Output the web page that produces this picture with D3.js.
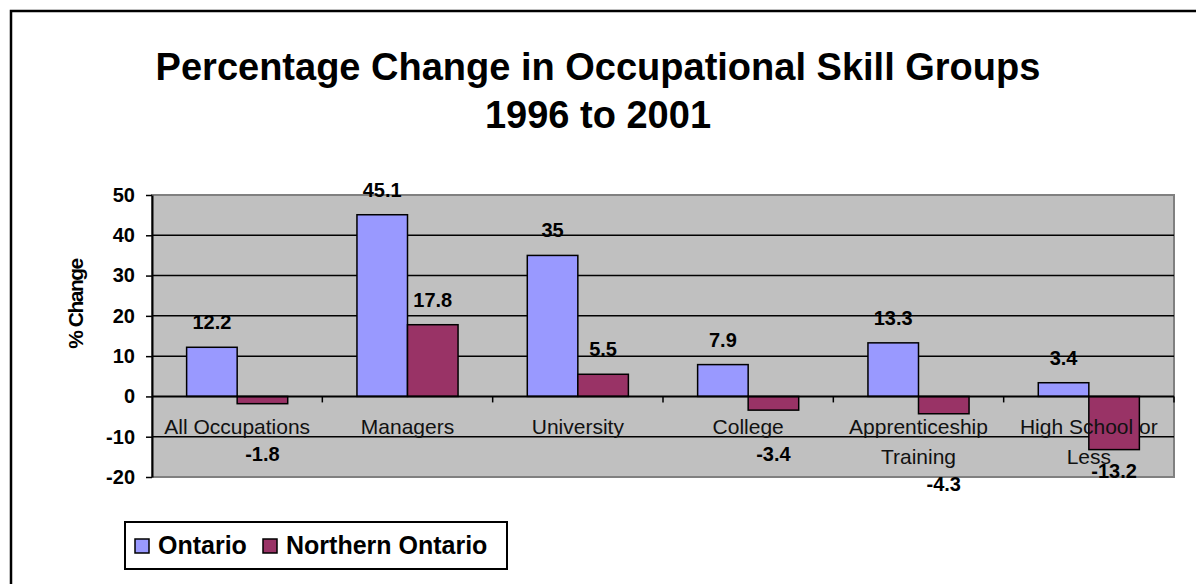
<!DOCTYPE html>
<html>
<head>
<meta charset="utf-8">
<script src="https://cdn.jsdelivr.net/npm/d3@7/dist/d3.min.js"></script>
<style>
  body { margin: 0; background: #fff; }
  text { font-family: "Liberation Sans", Arial, sans-serif; }
</style>
</head>
<body>
<script>
// Data
const categories = ['All Occupations', 'Managers', 'University', 'College', 'Apprenticeship Training', 'High School or Less']
const ontario = [12.2, 45.1, 35, 7.9, 13.3, 3.4]
const northern = [-1.8, 17.8, 5.5, -3.4, -4.3, -13.2]
const seriesNames = ['Ontario', 'Northern Ontario']
const seriesColors = ['#9999FF', '#993366']
const yTicks = [-20, -10, 0, 10, 20, 30, 40, 50]
const titleLines = ['Percentage Change in Occupational Skill Groups', '1996 to 2001']

const W = 1196, H = 584
const plot = { left: 152, right: 1174, top: 195, bottom: 477 }

const svg = d3.select('body').append('svg')
    .attr('width', W)
    .attr('height', H)

// outer chart border (runs off the right and bottom edge)
svg.append('rect')
    .attr('x', 11).attr('y', 11)
    .attr('width', W + 20).attr('height', H + 20)
    .attr('fill', 'none')
    .attr('stroke', '#000')
    .attr('stroke-width', 2.5)

// Title
svg.append('g').selectAll('text')
    .data(titleLines)
    .enter().append('text')
    .attr('x', 598)
    .attr('y', (d, i) => 80 + i * 48)
    .attr('text-anchor', 'middle')
    .style('font-size', '38px')
    .style('font-weight', 'bold')
    .text(d => d)

// Scales
const x0 = d3.scaleBand()
    .domain(categories)
    .range([plot.left, plot.right])

const gapWidth = 1.37
const barW = x0.bandwidth() / (2 + gapWidth)
const x1 = d3.scaleBand()
    .domain(seriesNames)
    .range([barW * gapWidth / 2, barW * gapWidth / 2 + barW * 2])

const y = d3.scaleLinear()
    .domain([-20, 50])
    .range([plot.bottom, plot.top])

// Plot area
svg.append('rect')
    .attr('x', plot.left).attr('y', plot.top)
    .attr('width', plot.right - plot.left)
    .attr('height', plot.bottom - plot.top)
    .attr('fill', '#C0C0C0')
    .attr('stroke', '#808080')
    .attr('stroke-width', 2)

// Gridlines
svg.append('g').selectAll('line')
    .data(yTicks.filter(t => t !== 0 && t !== -20 && t !== 50))
    .enter().append('line')
    .attr('x1', plot.left).attr('x2', plot.right)
    .attr('y1', d => y(d)).attr('y2', d => y(d))
    .attr('stroke', '#000')
    .attr('stroke-width', 1.5)

// Bars
const rows = categories.map((c, i) => ({ cat: c, values: [ontario[i], northern[i]] }))

const groups = svg.append('g').selectAll('g')
    .data(rows)
    .enter().append('g')
    .attr('transform', d => `translate(${x0(d.cat)},0)`)

groups.selectAll('rect')
    .data(d => d.values.map((v, j) => ({ s: seriesNames[j], v: v, j: j })))
    .enter().append('rect')
    .attr('x', d => x1(d.s))
    .attr('y', d => y(Math.max(0, d.v)))
    .attr('width', x1.bandwidth())
    .attr('height', d => Math.abs(y(d.v) - y(0)))
    .attr('fill', d => seriesColors[d.j])
    .attr('stroke', '#000')
    .attr('stroke-width', 1.5)

// Y axis (plain hyphen for negatives, like the original)
const yAxis = svg.append('g')
    .attr('transform', `translate(${plot.left},0)`)
    .call(d3.axisLeft(y).tickValues(yTicks).tickFormat(d => String(d))
        .tickSize(6).tickPadding(11).tickSizeOuter(0))
yAxis.select('.domain').attr('stroke-width', 2)
yAxis.selectAll('.tick line').attr('stroke-width', 1.5)
yAxis.selectAll('text')
    .style('font-size', '20px')
    .style('font-weight', 'bold')
    .style('font-family', '"Liberation Sans", Arial, sans-serif')
    .attr('fill', '#000')

// Zero line with category ticks
svg.append('line')
    .attr('x1', plot.left).attr('x2', plot.right)
    .attr('y1', y(0)).attr('y2', y(0))
    .attr('stroke', '#000')
    .attr('stroke-width', 2)

svg.append('g').selectAll('line')
    .data(categories)
    .enter().append('line')
    .attr('x1', d => x0(d) + x0.bandwidth())
    .attr('x2', d => x0(d) + x0.bandwidth())
    .attr('y1', y(0)).attr('y2', y(0) + 6)
    .attr('stroke', '#000')
    .attr('stroke-width', 1.5)

// Category labels (wrapped to band width)
const catLabels = svg.append('g').selectAll('text')
    .data(categories)
    .enter().append('text')
    .attr('x', d => x0(d) + x0.bandwidth() / 2)
    .attr('y', y(0) + 38)
    .attr('text-anchor', 'middle')
    .style('font-size', '21px')
    .attr('fill', '#111')

const lineCount = {}
catLabels.each(function (d) {
    const t = d3.select(this)
    const words = d.split(' ')
    let line = []
    let n = 0
    let tspan = t.append('tspan').attr('x', x0(d) + x0.bandwidth() / 2).attr('dy', 0)
    words.forEach(w => {
        line.push(w)
        tspan.text(line.join(' '))
        if (tspan.node().getComputedTextLength() > x0.bandwidth() && line.length > 1) {
            line.pop()
            tspan.text(line.join(' '))
            line = [w]
            n++
            tspan = t.append('tspan').attr('x', x0(d) + x0.bandwidth() / 2).attr('dy', 30).text(w)
        }
    })
    lineCount[d] = n + 1
})

// Data labels
const labels = svg.append('g')
rows.forEach(r => {
    r.values.forEach((v, j) => {
        const cx = x0(r.cat) + x1(seriesNames[j]) + x1.bandwidth() / 2
        let ly
        if (v >= 0) ly = y(v) - 18
        else if (y(v) - y(0) > 40) ly = y(v) + 28
        else ly = y(0) + 65 + (lineCount[r.cat] - 1) * 30
        labels.append('text')
            .attr('x', cx)
            .attr('y', ly)
            .attr('text-anchor', 'middle')
            .style('font-size', '20px')
            .style('font-weight', 'bold')
            .text(v)
    })
})

// Y axis title
svg.append('text')
    .attr('transform', `translate(83,304) rotate(-90)`)
    .attr('text-anchor', 'middle')
    .style('font-size', '21px')
    .style('font-weight', 'bold')
    .style('letter-spacing', '-1.5px')
    .text('% Change')

// Legend
const legend = svg.append('g').attr('transform', 'translate(125,522)')
legend.append('rect')
    .attr('width', 382).attr('height', 47)
    .attr('fill', '#fff')
    .attr('stroke', '#000')
    .attr('stroke-width', 2)

const legendX = [10, 138]
seriesNames.forEach((s, i) => {
    legend.append('rect')
        .attr('x', legendX[i]).attr('y', 17)
        .attr('width', 14).attr('height', 14)
        .attr('fill', seriesColors[i])
        .attr('stroke', '#000')
        .attr('stroke-width', 1.5)
    legend.append('text')
        .attr('x', legendX[i] + 23).attr('y', 32)
        .style('font-size', '25px')
        .style('font-weight', 'bold')
        .text(s)
})
</script>
</body>
</html>
